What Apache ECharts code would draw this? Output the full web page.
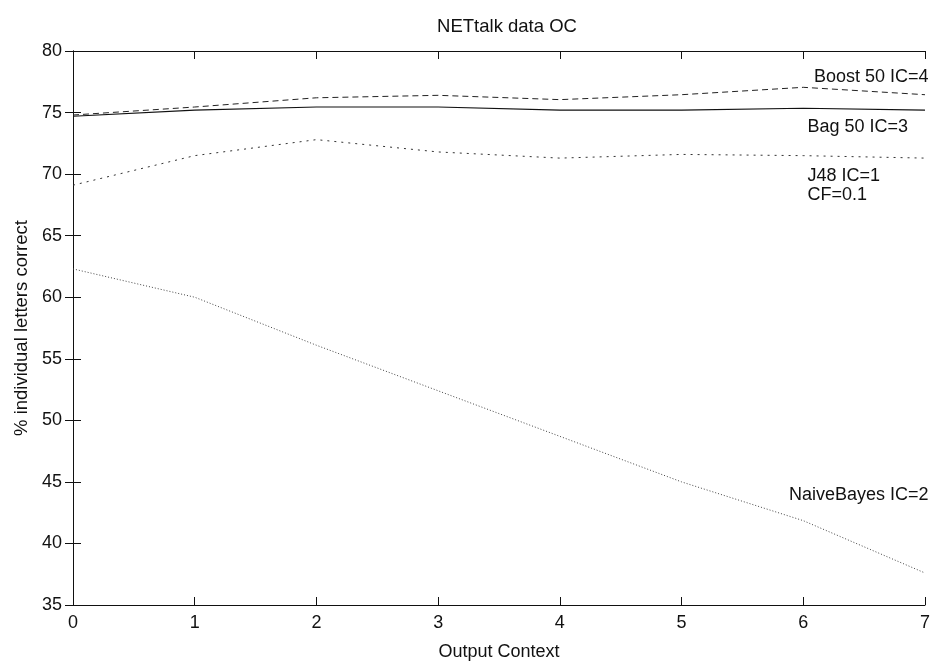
<!DOCTYPE html>
<html>
<head>
<meta charset="utf-8">
<script src="https://cdn.jsdelivr.net/npm/echarts@6/dist/echarts.min.js"></script>
<style>
  html, body { margin: 0; padding: 0; background: #fff; }
  #chart { width: 933px; height: 666px; }
</style>
</head>
<body>
<div id="chart"></div>
<script>
// output context 0..7
var contexts = [0, 1, 2, 3, 4, 5, 6, 7]
var boost = [74.8, 75.45, 76.2, 76.4, 76.05, 76.45, 77.05, 76.45]
var bag = [74.7, 75.2, 75.45, 75.45, 75.2, 75.2, 75.35, 75.2]
var j48 = [69.1, 71.5, 72.8, 71.8, 71.3, 71.6, 71.5, 71.3]
var naive = [62.3, 60.0, 56.1, 52.4, 48.7, 45.0, 41.85, 37.6]

var font = 'Liberation Sans, Arial, sans-serif'

function pairs(ys) {
    return contexts.map(function (x, i) { return [x, ys[i]] })
}

// label next to a line, placed in data coordinates
function tag(text, x, y, pos) {
    return {
        symbol: 'circle',
        symbolSize: 1,
        silent: true,
        itemStyle: { color: 'rgba(0,0,0,0)' },
        data: [{
            coord: [x, y],
            value: 0,
            label: {
                show: true,
                formatter: text,
                position: pos,
                distance: 0,
                offset: pos === 'left' ? [4, 0] : [0, 0],
                color: '#111',
                fontFamily: font,
                fontSize: 18,
                lineHeight: 19,
                align: pos === 'left' ? 'right' : 'left'
            }
        }]
    }
}

var chart = echarts.init(document.getElementById('chart'))

var option = {
    animation: false,
    backgroundColor: '#fff',
    title: {
        text: 'NETtalk data OC',
        left: 502,
        top: 12,
        textAlign: 'center',
        textStyle: { color: '#111', fontFamily: font, fontSize: 18.5, fontWeight: 'normal' }
    },
    grid: { left: 73, right: 3, top: 51, bottom: 56 },
    xAxis: [
        {
            type: 'value',
            min: 0,
            max: 7,
            interval: 1,
            name: 'Output Context',
            nameLocation: 'middle',
            nameGap: 38,
            nameTextStyle: { color: '#111', fontFamily: font, fontSize: 18 },
            axisLine: { lineStyle: { color: '#111', width: 1 } },
            axisTick: { inside: true, length: 8, lineStyle: { color: '#111' } },
            axisLabel: { color: '#111', fontFamily: font, fontSize: 18, margin: 9 },
            splitLine: { show: false }
        },
        {
            type: 'value',
            position: 'top',
            min: 0,
            max: 7,
            interval: 1,
            axisLine: { show: true, lineStyle: { color: '#111', width: 1 } },
            axisTick: { inside: true, length: 8, lineStyle: { color: '#111' } },
            axisLabel: { show: false },
            splitLine: { show: false }
        }
    ],
    yAxis: [
        {
            type: 'value',
            min: 35,
            max: 80,
            interval: 5,
            name: '% individual letters correct',
            nameLocation: 'middle',
            nameGap: 42,
            nameTextStyle: { color: '#111', fontFamily: font, fontSize: 18.5 },
            axisLine: { show: true, lineStyle: { color: '#111', width: 1 } },
            axisTick: { show: true, inside: true, length: 8, lineStyle: { color: '#111' } },
            axisLabel: { color: '#111', fontFamily: font, fontSize: 18, margin: 11 },
            splitLine: { show: false }
        },
        {
            type: 'value',
            position: 'right',
            min: 35,
            max: 80,
            interval: 5,
            axisLine: { show: true, lineStyle: { color: '#111', width: 1 } },
            axisTick: { show: true, inside: true, length: 8, lineStyle: { color: '#111' } },
            axisLabel: { show: false },
            splitLine: { show: false }
        }
    ],
    series: [
        {
            name: 'Boost 50 IC=4',
            type: 'line',
            data: pairs(boost),
            showSymbol: false,
            lineStyle: { color: '#222', width: 1, type: [6, 4] },
            markPoint: tag('Boost 50 IC=4', 7, 77.9, 'left')
        },
        {
            name: 'Bag 50 IC=3',
            type: 'line',
            data: pairs(bag),
            showSymbol: false,
            lineStyle: { color: '#111', width: 1.2, type: 'solid' },
            markPoint: tag('Bag 50 IC=3', 6.03, 73.8, 'right')
        },
        {
            name: 'J48 IC=1',
            type: 'line',
            data: pairs(j48),
            showSymbol: false,
            lineStyle: { color: '#333', width: 1, type: [2, 5] },
            markPoint: tag('J48 IC=1\nCF=0.1', 6.03, 69.1, 'right')
        },
        {
            name: 'NaiveBayes IC=2',
            type: 'line',
            data: pairs(naive),
            showSymbol: false,
            lineStyle: { color: '#444', width: 1, type: [1, 2] },
            markPoint: tag('NaiveBayes IC=2', 7, 43.9, 'left')
        }
    ]
}

chart.setOption(option)
</script>
</body>
</html>
